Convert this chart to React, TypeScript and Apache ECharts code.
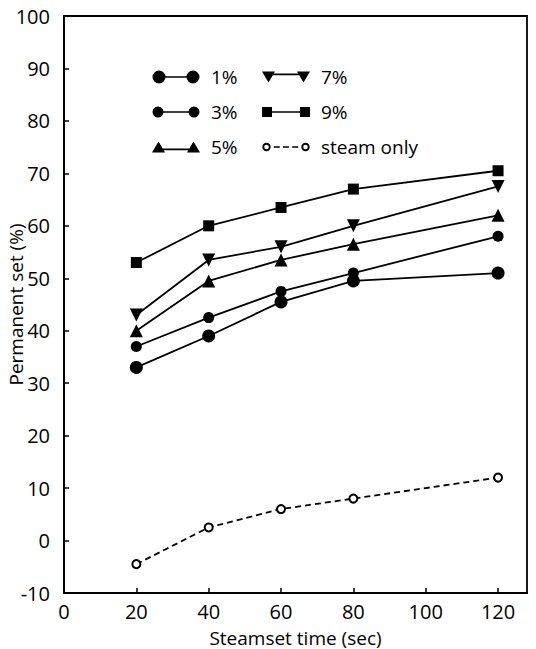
import React, { useEffect, useRef } from "react";
import * as echarts from "echarts";

// ---- data ----
const steamsetTimes = [20, 40, 60, 80, 120];
const seriesNames = ["1%", "3%", "5%", "7%", "9%", "steam only"];
const set1 = [33, 39, 45.5, 49.5, 51];
const set3 = [37, 42.5, 47.5, 51, 58];
const set5 = [40, 49.5, 53.5, 56.5, 62];
const set7 = [43, 53.5, 56, 60, 67.5];
const set9 = [53, 60, 63.5, 67, 70.5];
const setSteamOnly = [-4.5, 2.5, 6, 8, 12];
const legendColumn1 = ["1%", "3%", "5%"];
const legendColumn2 = ["7%", "9%", "steam only"];
const xAxisTitle = "Steamset time (sec)";
const yAxisTitle = "Permanent set (%)";
const X_MIN = 0, X_MAX = 128, X_STEP = 20;
const Y_MIN = -10, Y_MAX = 100, Y_STEP = 10;

// ---- legend icon paths (48 x 14 box) ----
const ANCHOR = "M0,0 L0,0 M48,14 L48,14 ";
const circ = (cx: number, cy: number, r: number, rev = false) => {
  const s = rev ? 0 : 1;
  return `M${cx - r},${cy} A${r},${r} 0 1,${s} ${cx + r},${cy} A${r},${r} 0 1,${s} ${cx - r},${cy} Z `;
};
const bar = (x1: number, x2: number, y1: number, y2: number) =>
  `M${x1},${y1} H${x2} V${y2} H${x1} Z `;

const iconPaths: Record<string, string> = {
  "1%": ANCHOR + circ(7, 7, 6.5) + circ(41, 7, 6.5) + bar(7, 41, 6.2, 7.8),
  "3%": ANCHOR + circ(6, 7, 5.5) + circ(42, 7, 5.5) + bar(6, 42, 6.2, 7.8),
  "5%":
    ANCHOR +
    "M0,12.5 L6.5,1.5 L13,12.5 Z M35,12.5 L41.5,1.5 L48,12.5 Z " +
    bar(6.5, 41.5, 8.6, 10.2),
  "7%":
    ANCHOR +
    "M0,1.5 L13,1.5 L6.5,12.5 Z M35,1.5 L48,1.5 L41.5,12.5 Z " +
    bar(6.5, 41.5, 3.6, 5.2),
  "9%":
    ANCHOR +
    "M0,2 H10 V12 H0 Z M38,2 H48 V12 H38 Z " +
    bar(5, 43, 6.2, 7.8),
  "steam only":
    ANCHOR +
    circ(4.5, 7, 4.2) +
    circ(4.5, 7, 2.3, true) +
    circ(43.5, 7, 4.2) +
    circ(43.5, 7, 2.3, true) +
    bar(11.8, 17.8, 6.2, 7.8) +
    bar(21, 27, 6.2, 7.8) +
    bar(30.2, 36.2, 6.2, 7.8),
};

const FONT = "Open Sans";

function buildOption() {
  const pairs = (vals: number[]) => steamsetTimes.map((x, i) => [x, vals[i]]);
  const solid = { color: "#000", width: 1.8 };
  const legendCommon = {
    orient: "vertical" as const,
    top: 60,
    itemGap: 11,
    itemWidth: 48,
    itemHeight: 14,
    selectedMode: false,
    symbolKeepAspect: false,
    itemStyle: { borderWidth: 0, color: "#000" },
    textStyle: {
      fontFamily: FONT,
      fontSize: 19,
      color: "#000",
      lineHeight: 24,
      padding: [0, 0, 0, 6],
    },
  };
  return {
    animation: false,
    backgroundColor: "#fff",
    textStyle: { fontFamily: FONT, color: "#000" },
    grid: {
      left: 64,
      top: 16,
      right: 9,
      bottom: 56,
      show: true,
      borderColor: "#000",
      borderWidth: 1.8,
      backgroundColor: "transparent",
      containLabel: false,
      outerBoundsMode: "none",
    },
    legend: [
      {
        ...legendCommon,
        left: 147,
        data: legendColumn1.map((n) => ({ name: n, icon: "path://" + iconPaths[n] })),
      },
      {
        ...legendCommon,
        left: 257,
        data: legendColumn2.map((n) => ({ name: n, icon: "path://" + iconPaths[n] })),
      },
    ],
    xAxis: {
      type: "value",
      min: X_MIN,
      max: X_MAX,
      interval: X_STEP,
      name: xAxisTitle,
      nameLocation: "middle",
      nameGap: 35,
      nameMoveOverlap: false,
      nameTextStyle: { fontFamily: FONT, fontSize: 19, color: "#000" },
      axisLine: { show: true, onZero: false, lineStyle: { color: "#000", width: 1.8 } },
      axisTick: { show: true, inside: true, length: 5, lineStyle: { color: "#000", width: 1.5 } },
      axisLabel: { fontFamily: FONT, fontSize: 20, color: "#000", margin: 8, showMaxLabel: false },
      splitLine: { show: false },
    },
    yAxis: {
      type: "value",
      min: Y_MIN,
      max: Y_MAX,
      interval: Y_STEP,
      name: yAxisTitle,
      nameLocation: "middle",
      nameGap: 39,
      nameMoveOverlap: false,
      nameTextStyle: { fontFamily: FONT, fontSize: 19, color: "#000" },
      axisLine: { show: true, onZero: false, lineStyle: { color: "#000", width: 1.8 } },
      axisTick: { show: true, inside: true, length: 5, lineStyle: { color: "#000", width: 1.5 } },
      axisLabel: { fontFamily: FONT, fontSize: 20, color: "#000", margin: 14 },
      splitLine: { show: false },
    },
    series: [
      {
        name: seriesNames[0],
        type: "line",
        data: pairs(set1),
        symbol: "circle",
        symbolSize: 13,
        color: "#000",
        lineStyle: solid,
        itemStyle: { color: "#000" },
      },
      {
        name: seriesNames[1],
        type: "line",
        data: pairs(set3),
        symbol: "circle",
        symbolSize: 11,
        color: "#000",
        lineStyle: solid,
        itemStyle: { color: "#000" },
      },
      {
        name: seriesNames[2],
        type: "line",
        data: pairs(set5),
        symbol: "triangle",
        symbolSize: 13,
        color: "#000",
        lineStyle: solid,
        itemStyle: { color: "#000" },
      },
      {
        name: seriesNames[3],
        type: "line",
        data: pairs(set7),
        symbol: "triangle",
        symbolRotate: 180,
        symbolSize: 13,
        color: "#000",
        lineStyle: solid,
        itemStyle: { color: "#000" },
      },
      {
        name: seriesNames[4],
        type: "line",
        data: pairs(set9),
        symbol: "rect",
        symbolSize: 11,
        color: "#000",
        lineStyle: solid,
        itemStyle: { color: "#000" },
      },
      {
        name: seriesNames[5],
        type: "line",
        data: pairs(setSteamOnly),
        symbol: "emptyCircle",
        symbolSize: 8,
        color: "#000",
        lineStyle: { color: "#000", width: 1.8, type: [6, 4] },
        itemStyle: { color: "#000", borderColor: "#000", borderWidth: 2 },
      },
    ],
  };
}

export default function App() {
  const ref = useRef<HTMLDivElement>(null);
  useEffect(() => {
    if (!ref.current) return;
    const chart = echarts.init(ref.current, null, { renderer: "svg" });
    chart.setOption(buildOption() as any);
    return () => chart.dispose();
  }, []);
  return (
    <div
      ref={ref}
      style={{ position: "fixed", left: 0, top: 0, width: 536, height: 649, background: "#fff" }}
    />
  );
}
